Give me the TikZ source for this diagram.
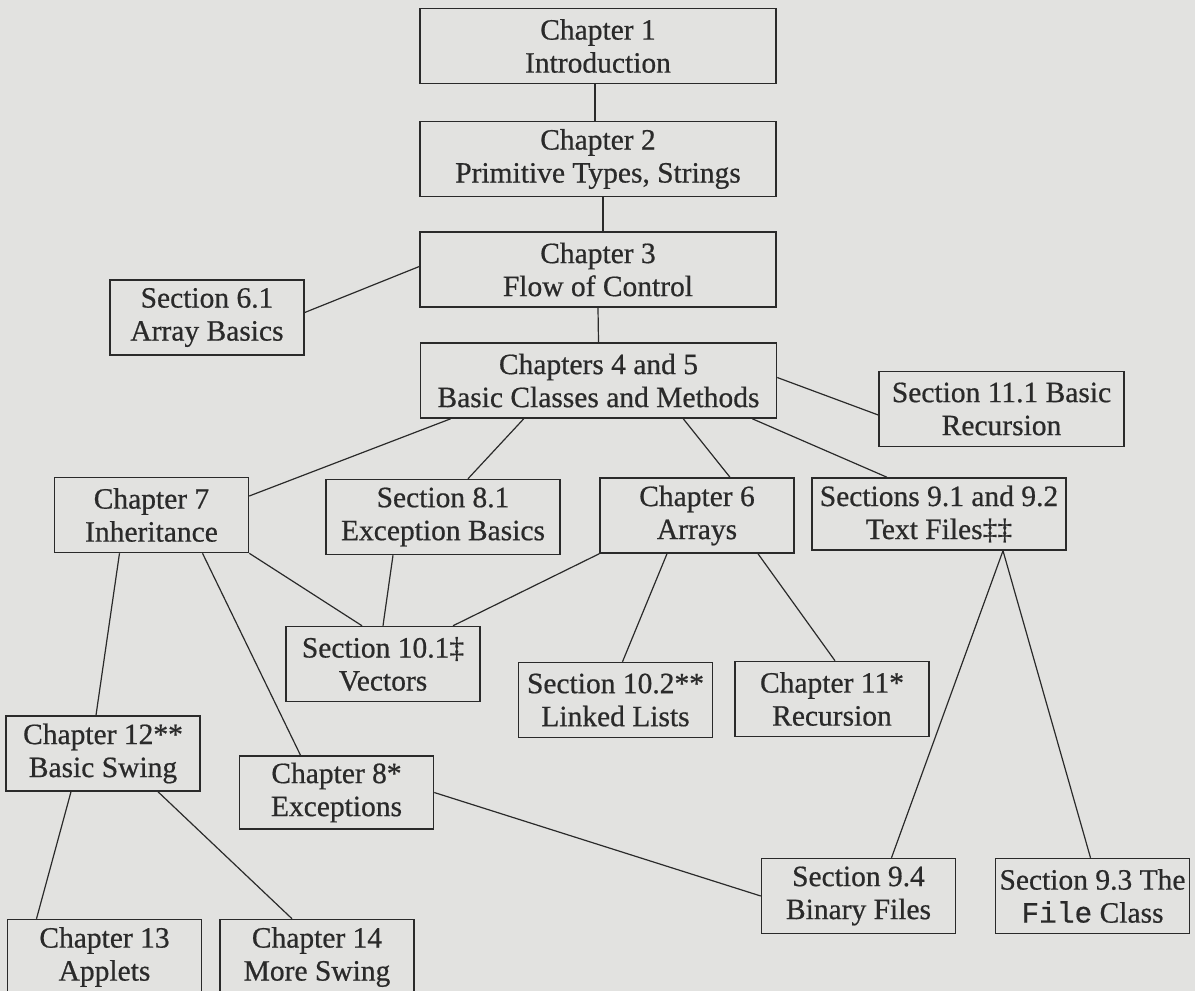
\documentclass[tikz,border=0pt]{standalone}
\usepackage{fontspec}
\setmainfont{Liberation Serif}[FakeBold=0.6]
\setmonofont{Liberation Mono}[FakeBold=0.6]
\usepackage{tikz}
\usetikzlibrary{positioning, calc}
\definecolor{pagegray}{HTML}{E2E2E0}
\definecolor{inkgray}{HTML}{2A2A2A}

\begin{document}
\begin{tikzpicture}[
  x=1pt, y=-1pt,
  box/.style={draw=inkgray, line width=1.5pt, text=inkgray, align=center, inner sep=2pt,
    minimum width=194pt, minimum height=75pt, font=\fontsize{29.5}{33}\selectfont},
  widebox/.style={box, minimum width=356pt},
  link/.style={draw=inkgray, line width=1.2pt}
]
\clip (0,0) rectangle (1195,991);
\fill[pagegray] (0,0) rectangle (1195,991);

% main chain
\node[widebox] (ch1) at (598,46) {Chapter 1\\ Introduction};
\node[widebox] (ch2) at (598,159) {Chapter 2\\ Primitive Types, Strings};
\node[widebox] (ch3) at (598,269.5) {Chapter 3\\ Flow of Control};
\node[widebox] (ch45) at (598.5,380.5) {Chapters 4 and 5\\ Basic Classes and Methods};

\node[box] (sec61) at (207,317.5) {Section 6.1\\ Array Basics};
\node[box, minimum width=245pt] (sec111) at (1001.5,409) {Section 11.1 Basic\\ Recursion};

% second row
\node[box] (ch7) at (151.5,515) {Chapter 7\\ Inheritance};
\node[box, minimum width=234pt] (sec81) at (443,517) {Section 8.1\\ Exception Basics};
\node[box] (ch6) at (697,515.5) {Chapter 6\\ Arrays};
\node[box, minimum width=254pt, minimum height=72pt] (sec9) at (939,514) {Sections 9.1 and 9.2\\ Text Files‡‡};

% third row
\node[box] (sec101) at (383,664) {Section 10.1‡\\ Vectors};
\node[box] (sec102) at (615.5,700) {Section 10.2**\\ Linked Lists};
\node[box] (ch11) at (832,699) {Chapter 11*\\ Recursion};

\node[box] (ch12) at (103,753.5) {Chapter 12**\\ Basic Swing};
\node[box, minimum height=73pt] (ch8) at (336.5,792.5) {Chapter 8*\\ Exceptions};

\node[box] (sec94) at (858.5,896) {Section 9.4\\ Binary Files};
\node[box] (sec93) at (1092.5,896) {Section 9.3 The\\ \texttt{File} Class};

\node[box] (ch13) at (104.5,957) {Chapter 13\\ Applets};
\node[box] (ch14) at (317,957) {Chapter 14\\ More Swing};

\draw[link] ([xshift=-3pt]ch1.south) -- ([xshift=-3pt]ch2.north);
\draw[link] ([xshift=5pt]ch2.south) -- ([xshift=5pt]ch3.north);
\draw[link] (ch3.south) -- (ch45.north);
\draw[link] ([yshift=3pt]ch3.west) -- ([yshift=5pt]sec61.east);

\draw[link] ([xshift=31pt]ch45.south west) -- ([yshift=19pt]ch7.east);
\draw[link] ([xshift=104pt]ch45.south west) -- ([xshift=25pt]sec81.north);
\draw[link] ([xshift=-94pt]ch45.south east) -- ([xshift=33pt]ch6.north);
\draw[link] ([xshift=-25pt]ch45.south east) -- ([xshift=-52pt]sec9.north);
\draw[link] ([yshift=3pt]ch45.east) -- ([yshift=-6pt]sec111.west);

\draw[link] (ch7.south east) -- ([xshift=-21pt]sec101.north);
\draw[link] ([xshift=-50pt]sec81.south) -- (sec101.north);
\draw[link] (ch6.south west) -- ([xshift=70pt]sec101.north);
\draw[link] ([xshift=-30pt]ch6.south) -- ([xshift=7pt]sec102.north);
\draw[link] ([xshift=61pt]ch6.south) -- ([xshift=3pt]ch11.north);

\draw[link] ([xshift=64pt]sec9.south) -- ([xshift=33pt]sec94.north);
\draw[link] ([xshift=64pt]sec9.south) -- ([xshift=-2pt]sec93.north);

\draw[link] ([xshift=-32pt]ch7.south) -- ([xshift=-7pt]ch12.north);
\draw[link] ([xshift=51pt]ch7.south) -- ([xshift=-36pt]ch8.north);
\draw[link] (ch8.east) -- (sec94.west);

\draw[link] ([xshift=-32pt]ch12.south) -- ([xshift=-68pt]ch13.north);
\draw[link] ([xshift=55pt]ch12.south) -- ([xshift=-25pt]ch14.north);
\end{tikzpicture}
\end{document}
